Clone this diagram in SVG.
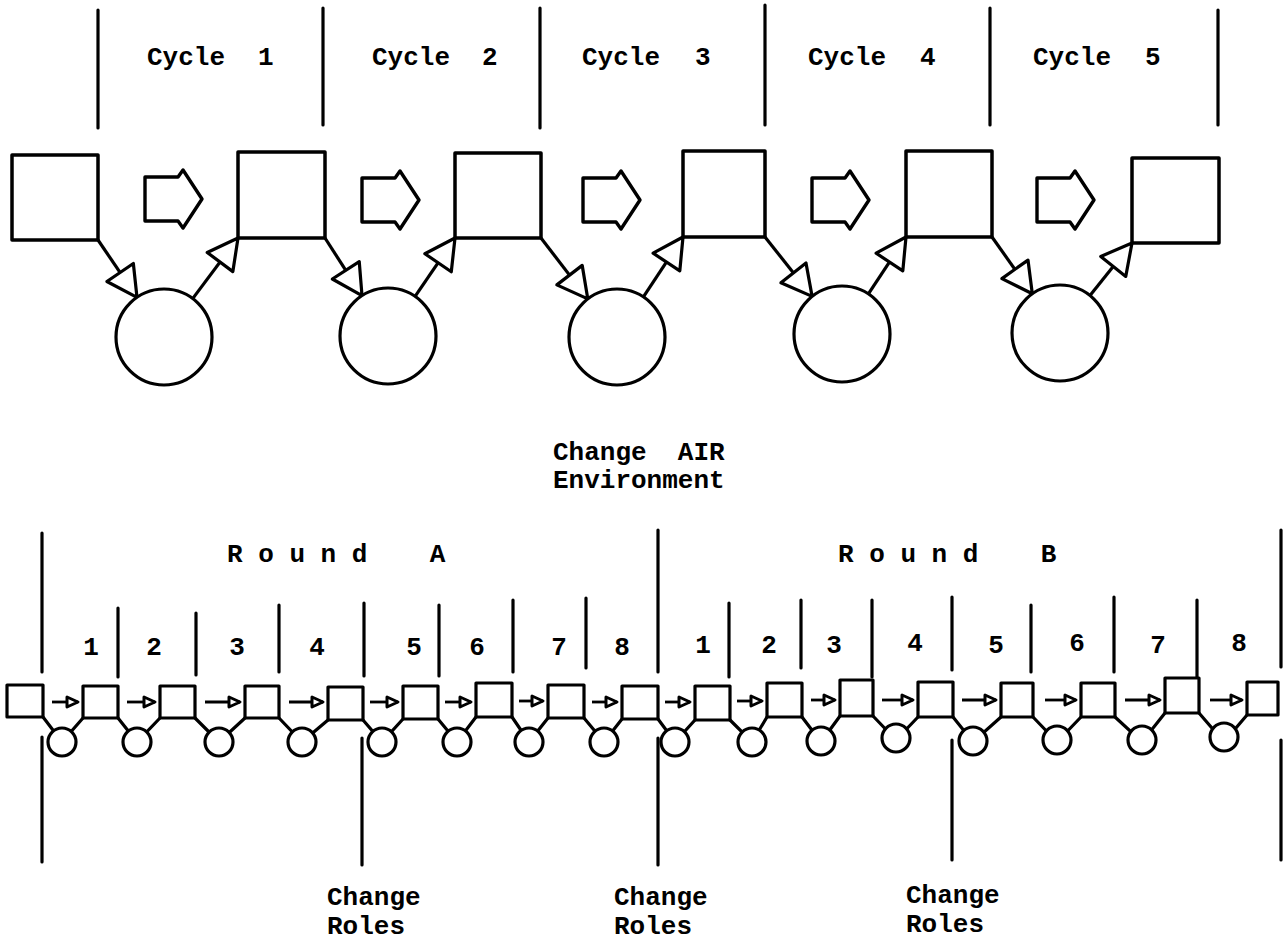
<svg xmlns="http://www.w3.org/2000/svg" width="1286" height="944" viewBox="0 0 1286 944">
<style>
  .ln { stroke:#000; stroke-width:3.2; fill:none; stroke-linecap:round; }
  .bx { stroke:#000; stroke-width:3.5; fill:#fff; stroke-linejoin:round; }
  .ci { stroke:#000; stroke-width:3.2; fill:#fff; }
  .sbx { stroke:#000; stroke-width:3.2; fill:#fff; stroke-linejoin:round; }
  .sci { stroke:#000; stroke-width:3.2; fill:#fff; }
  .cn { stroke:#000; stroke-width:3.2; fill:none; stroke-linecap:round; }
  .ar { stroke:#000; stroke-width:3.2; fill:none; marker-end:url(#tri); }
  .sa { stroke:#000; stroke-width:2.8; fill:none; marker-end:url(#sm); }
  .blk { stroke:#000; stroke-width:3.4; fill:#fff; stroke-linejoin:round; }
  text { font-family:"Liberation Mono","Courier New",monospace; font-size:26px; font-weight:bold; fill:#000; white-space:pre; }
</style>
<defs>
  <marker id="tri" markerUnits="userSpaceOnUse" markerWidth="40" markerHeight="40" refX="31" refY="20" orient="auto" overflow="visible">
    <path d="M1,4 L31,20 L1,36 Z" fill="#fff" stroke="#000" stroke-width="3.2" stroke-linejoin="round"/>
  </marker>
  <marker id="sm" markerUnits="userSpaceOnUse" markerWidth="20" markerHeight="20" refX="13" refY="10" orient="auto" overflow="visible">
    <path d="M2,5 L13,10 L2,15 Z" fill="#fff" stroke="#000" stroke-width="3" stroke-linejoin="round"/>
  </marker>
  <path id="blkar" class="blk" d="M0,7 L33,7 L38,0 L57,29 L38,58 L33,51 L0,51 Z"/>
</defs>

<!-- Top section: cycle dividers and labels -->
<g id="cycle-dividers">
  <line class="ln" x1="98" y1="10" x2="98" y2="128"/>
  <line class="ln" x1="323" y1="8" x2="323" y2="125"/>
  <line class="ln" x1="540" y1="8" x2="540" y2="128"/>
  <line class="ln" x1="765" y1="5" x2="765" y2="125"/>
  <line class="ln" x1="990" y1="8" x2="990" y2="125"/>
  <line class="ln" x1="1218" y1="10" x2="1218" y2="125"/>
</g>
<g id="cycle-labels">
  <text x="147" y="65">Cycle</text><text x="258" y="65">1</text>
  <text x="372" y="65">Cycle</text><text x="482" y="65">2</text>
  <text x="582" y="65">Cycle</text><text x="695" y="65">3</text>
  <text x="808" y="65">Cycle</text><text x="920" y="65">4</text>
  <text x="1033" y="65">Cycle</text><text x="1145" y="65">5</text>
</g>

<!-- Top connectors -->
<g id="top-connectors">
  <line class="ar" x1="98" y1="240" x2="137" y2="297.3"/>
  <line class="ar" x1="192.7" y1="298.6" x2="238" y2="238"/>
  <line class="ar" x1="325" y1="238" x2="362" y2="295.6"/>
  <line class="ar" x1="415.1" y1="296.4" x2="455" y2="238"/>
  <line class="ar" x1="541" y1="238" x2="587.8" y2="298.9"/>
  <line class="ar" x1="643.4" y1="296.9" x2="683" y2="237"/>
  <line class="ar" x1="765" y1="237" x2="812.1" y2="296.4"/>
  <line class="ar" x1="868.4" y1="293.9" x2="906" y2="237"/>
  <line class="ar" x1="992" y1="237" x2="1032.3" y2="293.8"/>
  <line class="ar" x1="1090" y1="295.5" x2="1132" y2="243"/>
</g>

<!-- Top nodes -->
<g id="top-box-1"><rect class="bx" x="12" y="155" width="86" height="85"/></g>
<g id="top-box-2"><rect class="bx" x="238" y="152" width="87" height="86"/></g>
<g id="top-box-3"><rect class="bx" x="455" y="153" width="86" height="85"/></g>
<g id="top-box-4"><rect class="bx" x="683" y="151" width="82" height="86"/></g>
<g id="top-box-5"><rect class="bx" x="906" y="151" width="86" height="86"/></g>
<g id="top-box-6"><rect class="bx" x="1132" y="158" width="87" height="85"/></g>

<g id="top-circle-1"><circle class="ci" cx="164" cy="337" r="48"/></g>
<g id="top-circle-2"><circle class="ci" cx="388" cy="336" r="48"/></g>
<g id="top-circle-3"><circle class="ci" cx="617" cy="337" r="48"/></g>
<g id="top-circle-4"><circle class="ci" cx="842" cy="334" r="48"/></g>
<g id="top-circle-5"><circle class="ci" cx="1060" cy="333" r="48"/></g>

<g id="block-arrows">
  <use href="#blkar" x="145" y="170"/>
  <use href="#blkar" x="362" y="171"/>
  <use href="#blkar" x="583" y="171"/>
  <use href="#blkar" x="812" y="171"/>
  <use href="#blkar" x="1037" y="171"/>
</g>

<g id="change-air">
  <text x="553" y="460">Change  AIR</text>
  <text x="553" y="488">Environment</text>
</g>

<!-- Bottom section -->
<g id="round-dividers">
  <line class="ln" x1="42" y1="533" x2="42" y2="672"/>
  <line class="ln" x1="42" y1="737" x2="42" y2="862"/>
  <line class="ln" x1="658" y1="530" x2="658" y2="672"/>
  <line class="ln" x1="658" y1="738" x2="658" y2="865"/>
  <line class="ln" x1="1281" y1="530" x2="1281" y2="667"/>
  <line class="ln" x1="1281" y1="740" x2="1281" y2="860"/>
  <line class="ln" x1="362" y1="738" x2="362" y2="865"/>
  <line class="ln" x1="952" y1="740" x2="952" y2="860"/>
</g>
<g id="round-labels">
  <text x="227" y="562">R o u n d    A</text>
  <text x="838" y="562">R o u n d    B</text>
</g>
<g id="step-dividers">
  <line class="ln" x1="118" y1="608" x2="118" y2="677"/>
  <line class="ln" x1="196" y1="613" x2="196" y2="675"/>
  <line class="ln" x1="279" y1="605" x2="279" y2="672"/>
  <line class="ln" x1="364" y1="603" x2="364" y2="676"/>
  <line class="ln" x1="439" y1="605" x2="439" y2="676"/>
  <line class="ln" x1="513" y1="600" x2="513" y2="672"/>
  <line class="ln" x1="586" y1="598" x2="586" y2="668"/>
  <line class="ln" x1="729" y1="603" x2="729" y2="677"/>
  <line class="ln" x1="801" y1="600" x2="801" y2="668"/>
  <line class="ln" x1="872" y1="600" x2="872" y2="677"/>
  <line class="ln" x1="952" y1="597" x2="952" y2="670"/>
  <line class="ln" x1="1031" y1="605" x2="1031" y2="672"/>
  <line class="ln" x1="1114" y1="597" x2="1114" y2="672"/>
  <line class="ln" x1="1197" y1="600" x2="1197" y2="680"/>
</g>
<g id="step-numbers" text-anchor="middle">
  <text x="91" y="655">1</text>
  <text x="154" y="655">2</text>
  <text x="237" y="655">3</text>
  <text x="317" y="655">4</text>
  <text x="414" y="655">5</text>
  <text x="477" y="655">6</text>
  <text x="559" y="655">7</text>
  <text x="622" y="655">8</text>
  <text x="703" y="653">1</text>
  <text x="769" y="653">2</text>
  <text x="834" y="653">3</text>
  <text x="915" y="651">4</text>
  <text x="996" y="653">5</text>
  <text x="1077" y="651">6</text>
  <text x="1158" y="653">7</text>
  <text x="1239" y="651">8</text>
</g>

<!-- Bottom connectors -->
<g id="bottom-connectors">
  <polyline class="cn" points="43,717 62,742 83,718"/>
  <polyline class="cn" points="118,718 137,742 160,718"/>
  <polyline class="cn" points="195,718 219,742 245,718"/>
  <polyline class="cn" points="279,718 302,742 328,720"/>
  <polyline class="cn" points="363,720 382,742 403,719"/>
  <polyline class="cn" points="438,719 457,742 476,717"/>
  <polyline class="cn" points="512,717 529,742 548,718"/>
  <polyline class="cn" points="584,718 604,742 622,719"/>
  <polyline class="cn" points="658,719 675,742 695,720"/>
  <polyline class="cn" points="730,720 752,742 767,717"/>
  <polyline class="cn" points="802,717 821,742 840,716"/>
  <polyline class="cn" points="873,716 896,740 918,717"/>
  <polyline class="cn" points="953,717 973,742 1001,717"/>
  <polyline class="cn" points="1033,717 1057,742 1081,717"/>
  <polyline class="cn" points="1115,717 1142,742 1165,713"/>
  <polyline class="cn" points="1199,713 1224,742 1247,715"/>
  <line class="sa" x1="52" y1="702" x2="78" y2="702"/>
  <line class="sa" x1="127" y1="702" x2="155" y2="702"/>
  <line class="sa" x1="205" y1="702" x2="240" y2="702"/>
  <line class="sa" x1="289" y1="702" x2="323" y2="702"/>
  <line class="sa" x1="370" y1="702" x2="398" y2="702"/>
  <line class="sa" x1="445" y1="702" x2="471" y2="702"/>
  <line class="sa" x1="519" y1="701" x2="543" y2="701"/>
  <line class="sa" x1="592" y1="702" x2="617" y2="702"/>
  <line class="sa" x1="665" y1="702" x2="690" y2="702"/>
  <line class="sa" x1="737" y1="701" x2="762" y2="701"/>
  <line class="sa" x1="811" y1="700" x2="835" y2="700"/>
  <line class="sa" x1="882" y1="700" x2="913" y2="700"/>
  <line class="sa" x1="962" y1="700" x2="996" y2="700"/>
  <line class="sa" x1="1045" y1="700" x2="1076" y2="700"/>
  <line class="sa" x1="1125" y1="700" x2="1160" y2="700"/>
  <line class="sa" x1="1210" y1="700" x2="1242" y2="700"/>
</g>

<!-- Bottom nodes -->
<g id="sbox-0"><rect class="sbx" x="7" y="685" width="36" height="32"/></g>
<g id="sbox-1"><rect class="sbx" x="83" y="686" width="35" height="32"/></g>
<g id="sbox-2"><rect class="sbx" x="160" y="686" width="35" height="32"/></g>
<g id="sbox-3"><rect class="sbx" x="245" y="686" width="34" height="32"/></g>
<g id="sbox-4"><rect class="sbx" x="328" y="687" width="35" height="33"/></g>
<g id="sbox-5"><rect class="sbx" x="403" y="686" width="35" height="33"/></g>
<g id="sbox-6"><rect class="sbx" x="476" y="683" width="36" height="34"/></g>
<g id="sbox-7"><rect class="sbx" x="548" y="685" width="36" height="33"/></g>
<g id="sbox-8"><rect class="sbx" x="622" y="686" width="36" height="33"/></g>
<g id="sbox-9"><rect class="sbx" x="695" y="686" width="35" height="34"/></g>
<g id="sbox-10"><rect class="sbx" x="767" y="683" width="35" height="34"/></g>
<g id="sbox-11"><rect class="sbx" x="840" y="680" width="33" height="36"/></g>
<g id="sbox-12"><rect class="sbx" x="918" y="682" width="35" height="35"/></g>
<g id="sbox-13"><rect class="sbx" x="1001" y="683" width="32" height="34"/></g>
<g id="sbox-14"><rect class="sbx" x="1081" y="683" width="34" height="34"/></g>
<g id="sbox-15"><rect class="sbx" x="1165" y="678" width="34" height="35"/></g>
<g id="sbox-16"><rect class="sbx" x="1247" y="682" width="31" height="33"/></g>

<g id="scircle-1"><circle class="sci" cx="62" cy="742" r="14"/></g>
<g id="scircle-2"><circle class="sci" cx="137" cy="742" r="14"/></g>
<g id="scircle-3"><circle class="sci" cx="219" cy="742" r="14"/></g>
<g id="scircle-4"><circle class="sci" cx="302" cy="742" r="14"/></g>
<g id="scircle-5"><circle class="sci" cx="382" cy="742" r="14"/></g>
<g id="scircle-6"><circle class="sci" cx="457" cy="742" r="14"/></g>
<g id="scircle-7"><circle class="sci" cx="529" cy="742" r="14"/></g>
<g id="scircle-8"><circle class="sci" cx="604" cy="742" r="14"/></g>
<g id="scircle-9"><circle class="sci" cx="675" cy="742" r="14"/></g>
<g id="scircle-10"><circle class="sci" cx="752" cy="742" r="14"/></g>
<g id="scircle-11"><circle class="sci" cx="821" cy="741" r="14"/></g>
<g id="scircle-12"><circle class="sci" cx="896" cy="738" r="14"/></g>
<g id="scircle-13"><circle class="sci" cx="973" cy="741" r="14"/></g>
<g id="scircle-14"><circle class="sci" cx="1057" cy="740" r="14"/></g>
<g id="scircle-15"><circle class="sci" cx="1142" cy="740" r="14"/></g>
<g id="scircle-16"><circle class="sci" cx="1224" cy="737" r="14"/></g>

<g id="change-roles">
  <text x="327" y="905">Change</text>
  <text x="327" y="934">Roles</text>
  <text x="614" y="905">Change</text>
  <text x="614" y="934">Roles</text>
  <text x="906" y="903">Change</text>
  <text x="906" y="932">Roles</text>
</g>
</svg>
